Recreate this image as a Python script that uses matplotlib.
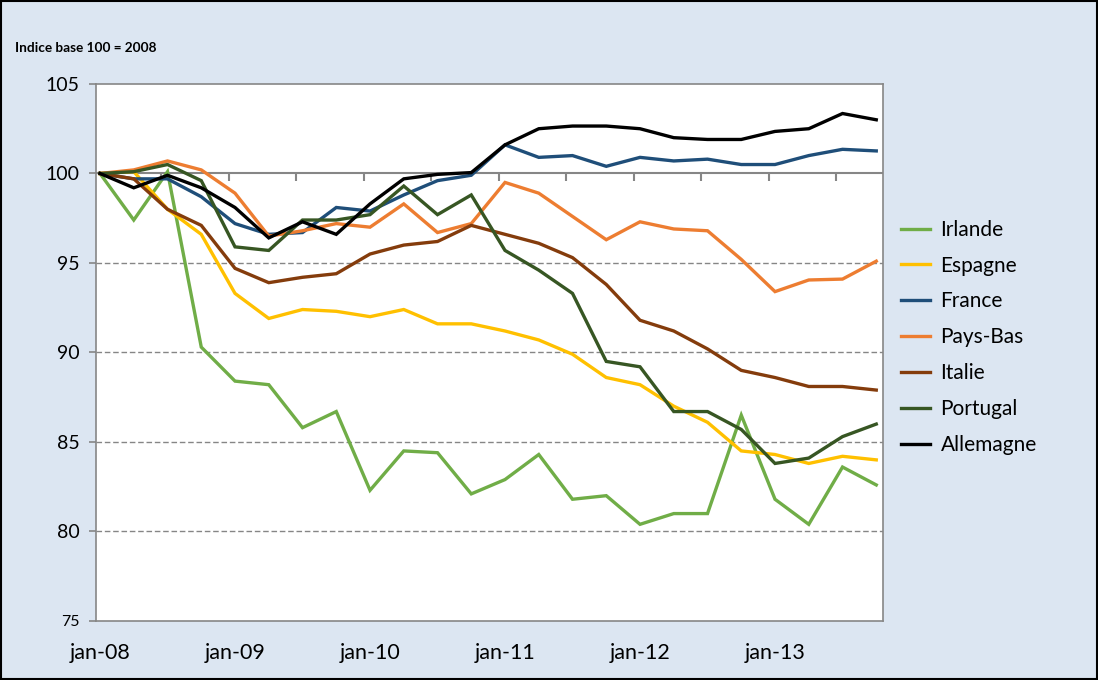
import matplotlib
matplotlib.use("Agg")
import matplotlib.pyplot as plt
from matplotlib.patches import Rectangle
import numpy as np

plt.rcParams['font.family'] = ['Lato', 'DejaVu Sans']

# trimestres de jan-08 a oct-13
quarters = np.arange(24)
tick_labels = ["jan-08", "jan-09", "jan-10", "jan-11", "jan-12", "jan-13"]

irlande = [100, 97.4, 100.1, 90.3, 88.4, 88.2, 85.8, 86.7, 82.3, 84.5, 84.4, 82.1,
           82.9, 84.3, 81.8, 82.0, 80.4, 81.0, 81.0, 86.5, 81.8, 80.4, 83.6, 82.6]
espagne = [100, 100.1, 98.0, 96.6, 93.3, 91.9, 92.4, 92.3, 92.0, 92.4, 91.6, 91.6,
           91.2, 90.7, 89.9, 88.6, 88.2, 87.0, 86.1, 84.5, 84.3, 83.8, 84.2, 84.0]
france = [100, 99.7, 99.7, 98.7, 97.2, 96.6, 96.7, 98.1, 97.9, 98.8, 99.6, 99.9,
          101.6, 100.9, 101.0, 100.4, 100.9, 100.7, 100.8, 100.5, 100.5, 101.0, 101.35, 101.26]
pays_bas = [100, 100.2, 100.7, 100.2, 98.9, 96.5, 96.8, 97.2, 97.0, 98.3, 96.7, 97.2,
            99.5, 98.9, 97.6, 96.3, 97.3, 96.9, 96.8, 95.2, 93.4, 94.05, 94.1, 95.1]
italie = [100, 99.7, 98.0, 97.1, 94.7, 93.9, 94.2, 94.4, 95.5, 96.0, 96.2, 97.1,
          96.6, 96.1, 95.3, 93.8, 91.8, 91.2, 90.2, 89.0, 88.6, 88.1, 88.1, 87.9]
portugal = [100, 100.1, 100.5, 99.6, 95.9, 95.7, 97.4, 97.4, 97.7, 99.3, 97.7, 98.8,
            95.7, 94.6, 93.3, 89.5, 89.2, 86.7, 86.7, 85.7, 83.8, 84.1, 85.3, 86.0]
allemagne = [100, 99.2, 99.9, 99.2, 98.1, 96.4, 97.3, 96.6, 98.3, 99.7, 99.95, 100.05,
             101.6, 102.5, 102.65, 102.65, 102.5, 102.0, 101.9, 101.9, 102.35, 102.5, 103.35, 103.0]

series = [
    ("Irlande", irlande, "#70AD47"),
    ("Espagne", espagne, "#FFC000"),
    ("France", france, "#1F4E79"),
    ("Pays-Bas", pays_bas, "#ED7D31"),
    ("Italie", italie, "#843C0C"),
    ("Portugal", portugal, "#375623"),
    ("Allemagne", allemagne, "#000000"),
]

bg = "#DCE6F2"
grey = "#868686"

fig = plt.figure(figsize=(10.98, 6.8), dpi=100, facecolor=bg)
ax = fig.add_axes([0.0874, 0.0868, 0.7168, 0.7897])
ax.set_facecolor("white")

# grille
for v in [95, 90, 85, 80]:
    ax.axhline(v, color=grey, lw=1.0, ls=(0, (4, 2)), zorder=1)
ax.axhline(100, color=grey, lw=1.5, zorder=1)
ax.vlines(np.arange(1, 12) * 2 - 0.18, 99.6, 100, color=grey, lw=1.5, zorder=1)

for name, vals, col in series:
    ax.plot(quarters, vals, color=col, lw=2.4, label=name, zorder=3,
            solid_joinstyle='miter')

ax.set_xlim(-0.12, 23.2)
ax.set_ylim(75, 105)
ax.set_yticks([75, 80, 85, 90, 95, 100, 105])
ax.set_xticks(quarters[::4])
ax.set_xticklabels(tick_labels)
ax.tick_params(axis='x', length=0, pad=16, labelsize=15.5)
ax.tick_params(axis='y', length=5, width=1.2, color=grey, pad=7, labelsize=14)
ax.yaxis.get_major_ticks()[0].label1.set_fontsize(11.5)

for s in ax.spines.values():
    s.set_color(grey)
    s.set_linewidth(1.2)

fig.text(0.0137, 0.929, "Indice base 100 = 2008", fontsize=9.8, fontweight='bold',
         ha='left', va='center')

fig.legend(loc='upper left', bbox_to_anchor=(0.813, 0.689), frameon=False,
           fontsize=15, handlelength=1.4, handletextpad=0.5, labelspacing=0.76,
           borderaxespad=0)

fig.patches.append(Rectangle((0.001, 0.0015), 0.998, 0.997, transform=fig.transFigure,
                             fill=False, edgecolor='black', lw=1.5))

fig.savefig("out.png", dpi=100, facecolor=bg)
